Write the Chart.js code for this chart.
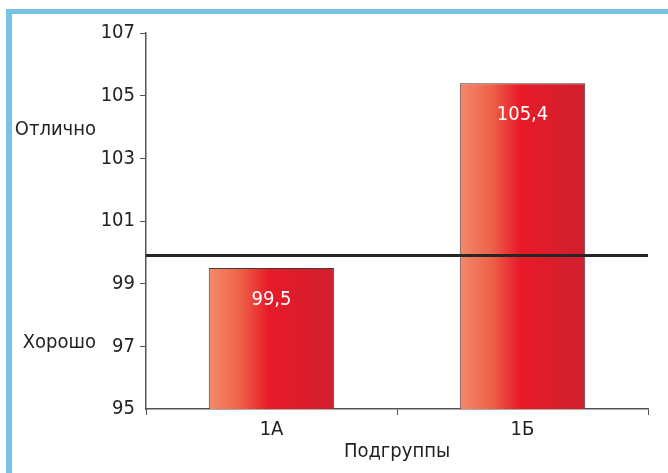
<!DOCTYPE html>
<html>
<head>
<meta charset="utf-8">
<script src="https://cdn.jsdelivr.net/npm/chart.js@4/dist/chart.umd.min.js"></script>
<style>
  html, body { margin: 0; padding: 0; background: #fff; }
  body { width: 668px; height: 473px; position: relative; overflow: hidden; }
  .frame {
    position: absolute; left: 6px; top: 9px; right: -20px; bottom: -20px;
    border-left: 6px solid #78c2e6; border-top: 5px solid #78c2e6;
  }
  #wrap { position: absolute; left: 0; top: 0; width: 668px; height: 473px; }
</style>
</head>
<body>
<div class="frame"></div>
<div id="wrap"><canvas id="chart"></canvas></div>
<script>
const groups = ['1A', '1Б'];
const scores = [99.5, 105.4];
const yTicks = [95, 97, 99, 101, 103, 105, 107];
const threshold = 99.9;
const gradeNames = ['Отлично', 'Хорошо'];
const gradeLevels = [103.9, 97.1];

const FONT = "'Liberation Sans Narrow', 'Arial Narrow', 'DejaVu Sans Condensed', sans-serif";
const FONT_SIZE = 20;
const AXIS_COLOR = '#555';

// horizontal gradient across one bar
function barGradient(ctx, bar) {
  const half = bar.width / 2;
  const g = ctx.createLinearGradient(bar.x - half, 0, bar.x + half, 0);
  g.addColorStop(0, '#f38a6c');
  g.addColorStop(0.25, '#ee6249');
  g.addColorStop(0.48, '#e81a28');
  g.addColorStop(1, '#cf202e');
  return g;
}

// horizontal line, grade names and value labels
const extras = {
  id: 'extras',
  beforeDatasetsDraw(chart) {
    chart.getDatasetMeta(0).data.forEach(bar => {
      bar.options.backgroundColor = barGradient(chart.ctx, bar);
    });
  },
  afterDatasetsDraw(chart) {
    const ctx = chart.ctx;
    const area = chart.chartArea;
    const y = chart.scales.y;

    ctx.save();
    ctx.strokeStyle = '#262626';
    ctx.lineWidth = 3;
    const ly = y.getPixelForValue(threshold);
    ctx.beginPath();
    ctx.moveTo(area.left, ly);
    ctx.lineTo(area.right, ly);
    ctx.stroke();

    ctx.font = FONT_SIZE + 'px ' + FONT;
    ctx.fillStyle = '#fff';
    ctx.textAlign = 'center';
    ctx.textBaseline = 'middle';
    chart.getDatasetMeta(0).data.forEach((bar, i) => {
      ctx.fillText(scores[i].toFixed(1).replace('.', ','), bar.x, bar.y + 32);
    });

    ctx.fillStyle = '#222';
    ctx.textAlign = 'right';
    gradeNames.forEach((name, i) => {
      ctx.fillText(name, 96, y.getPixelForValue(gradeLevels[i]));
    });
    ctx.restore();
  }
};

new Chart(document.getElementById('chart'), {
  type: 'bar',
  data: {
    labels: groups,
    datasets: [{
      data: scores,
      // scriptable so each bar keeps its own options object
      backgroundColor: () => '#e81a28',
      borderColor: '#4a3a36',
      borderWidth: 1,
      borderSkipped: false,
      barPercentage: 0.5,
      categoryPercentage: 1.0
    }]
  },
  options: {
    responsive: true,
    maintainAspectRatio: false,
    animation: false,
    layout: { padding: { top: 33, right: 20, left: 0, bottom: 0 } },
    plugins: {
      legend: { display: false },
      tooltip: { enabled: false }
    },
    scales: {
      x: {
        offset: true,
        grid: {
          offset: true,
          drawOnChartArea: false,
          tickLength: 6,
          color: AXIS_COLOR,
          lineWidth: 1
        },
        border: { color: AXIS_COLOR, width: 1.5 },
        ticks: { color: '#222', font: { family: FONT, size: FONT_SIZE }, padding: 3 },
        title: {
          display: true,
          text: 'Подгруппы',
          color: '#222',
          font: { family: FONT, size: FONT_SIZE },
          padding: { top: 0, bottom: 9 }
        },
        afterFit(scale) { scale.height = 64; }
      },
      y: {
        min: 95,
        max: 107,
        afterBuildTicks(scale) { scale.ticks = yTicks.map(v => ({ value: v })); },
        grid: {
          drawOnChartArea: false,
          tickLength: 6,
          color: ctx => (ctx.tick && ctx.tick.value === 95 ? 'rgba(0,0,0,0)' : AXIS_COLOR),
          lineWidth: 1
        },
        border: { color: AXIS_COLOR, width: 1.5 },
        ticks: { color: '#222', font: { family: FONT, size: FONT_SIZE }, padding: 5 },
        afterFit(scale) { scale.width = 146; }
      }
    }
  },
  plugins: [extras]
});
</script>
</body>
</html>
